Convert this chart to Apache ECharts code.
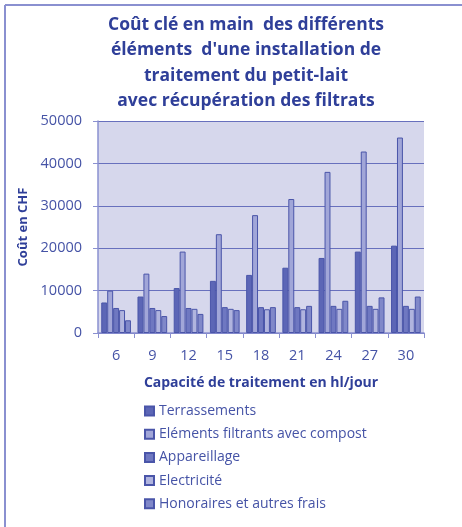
<!DOCTYPE html>
<html>
<head>
<meta charset="utf-8">
<script src="https://cdn.jsdelivr.net/npm/echarts@6/dist/echarts.min.js"></script>
<style>
  html, body { margin: 0; padding: 0; background: #fff; }
  #chart { width: 462px; height: 527px; }
</style>
</head>
<body>
<div id="chart"></div>
<script>
// capacité en hl/jour
const capacites = ['6', '9', '12', '15', '18', '21', '24', '27', '30'];

// coûts en CHF
const terrassements = [7200, 8600, 10600, 12300, 13700, 15400, 17700, 19200, 20600];
const elementsFiltrants = [10000, 14000, 19200, 23300, 27800, 31600, 38000, 42800, 46100];
const appareillage = [5900, 5900, 5900, 6100, 6100, 6100, 6400, 6400, 6400];
const electricite = [5400, 5400, 5700, 5700, 5600, 5600, 5700, 5700, 5700];
const honoraires = [3000, 4000, 4500, 5400, 6100, 6400, 7600, 8400, 8600];

const yTicks = [0, 10000, 20000, 30000, 40000, 50000];

const txtDark = '#2f3f99';
const txtLabel = '#4553a6';
const font = 'Open Sans';

function serie(name, data, color) {
    return {
        name: name,
        type: 'bar',
        data: data,
        barGap: '0%',
        barCategoryGap: '18%',
        itemStyle: { color: color, borderColor: '#4a55a9', borderWidth: 1 }
    };
}

const chart = echarts.init(document.getElementById('chart'));
chart.setOption({
    animation: false,
    title: {
        text: 'Coût clé en main  des différents\néléments  d\'une installation de\ntraitement du petit-lait\navec récupération des filtrats',
        left: 241,
        top: 7,
        textAlign: 'center',
        textStyle: { color: txtDark, fontFamily: font, fontWeight: 'bold', fontSize: 17.5, lineHeight: 25.5 }
    },
    graphic: [
        { type: 'line', shape: { x1: 5, y1: 5, x2: 5, y2: 527 }, style: { stroke: '#8a90d0', lineWidth: 2 } },
        { type: 'line', shape: { x1: 5, y1: 5, x2: 462, y2: 5 }, style: { stroke: '#8a90d0', lineWidth: 2 } }
    ],
    legend: {
        orient: 'vertical',
        left: 144,
        top: 404,
        padding: 0,
        itemWidth: 9,
        itemHeight: 9,
        itemGap: 9.2,
        icon: 'rect',
        textStyle: { color: txtLabel, fontFamily: font, fontSize: 14, lineHeight: 14, padding: [0, 0, 0, 0] }
    },
    grid: { left: 98, right: 38, top: 121, bottom: 194, show: true, backgroundColor: '#d6d7ec', borderWidth: 0 },
    xAxis: {
        type: 'category',
        data: capacites,
        name: 'Capacité de traitement en hl/jour',
        nameLocation: 'middle',
        nameGap: 43,
        nameTextStyle: { color: txtDark, fontFamily: font, fontWeight: 'bold', fontSize: 14 },
        axisLine: { lineStyle: { color: '#8a90d0', width: 1.5 } },
        axisTick: { show: true, length: 5, lineStyle: { color: '#8a90d0' } },
        axisLabel: { color: txtLabel, fontFamily: font, fontSize: 14.5, margin: 15 }
    },
    yAxis: {
        type: 'value',
        min: yTicks[0],
        max: yTicks[yTicks.length - 1],
        interval: 10000,
        name: 'Coût en CHF',
        nameLocation: 'middle',
        nameRotate: 90,
        nameGap: 68,
        nameTextStyle: { color: txtDark, fontFamily: font, fontWeight: 'bold', fontSize: 13 },
        axisLine: { show: true, lineStyle: { color: '#8a90d0', width: 1.5 } },
        axisTick: { show: true, length: 5, lineStyle: { color: '#8a90d0' } },
        axisLabel: { color: txtLabel, fontFamily: font, fontSize: 14.5, margin: 16, formatter: v => String(v) },
        splitLine: { lineStyle: { color: '#6870bd', width: 1 } }
    },
    series: [
        serie('Terrassements', terrassements, '#5c66b6'),
        serie('Eléments filtrants avec compost', elementsFiltrants, '#a1a6d8'),
        serie('Appareillage', appareillage, '#6f78c1'),
        serie('Electricité', electricite, '#b0b4de'),
        serie('Honoraires et autres frais', honoraires, '#8088c9')
    ]
});
</script>
</body>
</html>
